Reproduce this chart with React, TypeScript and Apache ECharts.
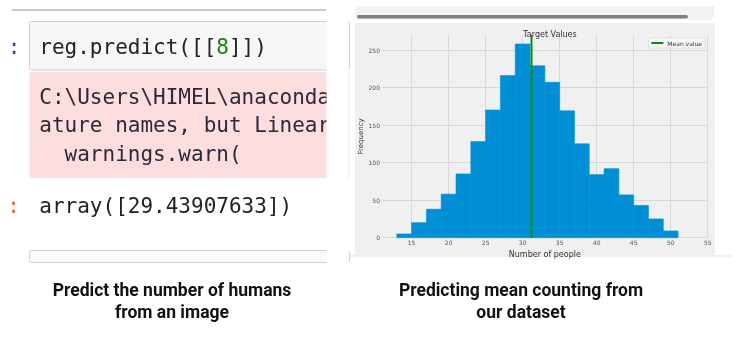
import React, { useEffect, useRef } from "react";
import * as echarts from "echarts";

// Histogram data (Target Values)
const binStarts = [13, 15, 17, 19, 21, 23, 25, 27, 29, 31, 33, 35, 37, 39, 41, 43, 45, 47, 49];
const binWidth = 2;
const counts = [5, 20, 38, 58, 85, 128, 170, 216, 258, 229, 207, 169, 125, 84, 92, 57, 43, 25, 9];
const meanValue = [31.2];
const xTickValues = [15, 20, 25, 30, 35, 40, 45, 50, 55];

// Notebook screenshot texts
const codeLine = ["reg.predict([[", "8", "]])"];
const stderrLines = ["C:\\Users\\HIMEL\\anaconda", "ature names, but Linear", "  warnings.warn("];
const outputLine = "array([29.43907633])";
const captionsLeft = ["Predict the number of humans", "from an image"];
const captionsRight = ["Predicting mean counting from", "our dataset"];

const MONO = "'DejaVu Sans Mono', monospace";
const SANS = "'DejaVu Sans', sans-serif";
const CAP = "Roboto, 'Noto Sans', sans-serif";
const TOP_OFF = 17; // baseline -> top for 21px mono

export default function App() {
  const ref = useRef<HTMLDivElement>(null);
  useEffect(() => {
    if (!ref.current) return;
    const chart = echarts.init(ref.current, null, { renderer: "svg" });
    const histData = binStarts.map((s, i) => [s, s + binWidth, counts[i]]);

    const graphics: any[] = [
      // left notebook screenshot
      { type: "line", z: 0, shape: { x1: 12, y1: 10, x2: 326, y2: 10 }, style: { stroke: "#b8b8b8", lineWidth: 1.5 } },
      { type: "text", z: 1, x: 14, y: 53 - TOP_OFF, style: { text: ":", fill: "#303f9f", font: `21px ${MONO}`, textAlign: "center", textVerticalAlign: "top" } },
      { type: "rect", z: 0, shape: { x: 29.5, y: 21.5, width: 320, height: 48.5, r: 2 }, style: { fill: "#f7f7f7", stroke: "#d0d0d0", lineWidth: 1 } },
      {
        type: "text", z: 1, x: 39.3, y: 53 - TOP_OFF,
        style: {
          text: `{a|${codeLine[0]}}{b|${codeLine[1]}}{a|${codeLine[2]}}`,
          textVerticalAlign: "top",
          rich: {
            a: { fill: "#222", font: `21px ${MONO}` },
            b: { fill: "#118811", font: `21px ${MONO}` },
          },
        },
      },
      { type: "rect", z: 0, shape: { x: 29.5, y: 72, width: 320, height: 106 }, style: { fill: "#fddddd" } },
      ...stderrLines.map((t, i) => ({
        type: "text", z: 1, x: 39.3, y: 103.3 + i * 28.5 - TOP_OFF,
        style: { text: t, fill: "#2a2a3a", font: `21px ${MONO}`, textVerticalAlign: "top" },
      })),
      { type: "text", z: 1, x: 13.5, y: 212 - TOP_OFF, style: { text: ":", fill: "#e8622a", font: `21px ${MONO}`, textAlign: "center", textVerticalAlign: "top" } },
      { type: "text", z: 1, x: 39.3, y: 212 - TOP_OFF, style: { text: outputLine, fill: "#222", font: `21px ${MONO}`, textVerticalAlign: "top" } },
      { type: "rect", z: 0, shape: { x: 29.5, y: 250.5, width: 320, height: 12, r: 2 }, style: { fill: "#fafafa", stroke: "#d0d0d0", lineWidth: 1 } },
      { type: "rect", z: 5, shape: { x: 326.5, y: 0, width: 22, height: 270 }, style: { fill: "#ffffff" } },
      // right panel decorations
      { type: "rect", z: 0, shape: { x: 355, y: 6, width: 359, height: 14, r: [0, 0, 4, 4] }, style: { fill: "#f3f3f3" } },
      { type: "rect", z: 1, shape: { x: 357, y: 15, width: 331, height: 3.5, r: 2 }, style: { fill: "#7f7f7f" } },
      { type: "rect", z: 0, shape: { x: 355, y: 23, width: 360, height: 232 }, style: { fill: "#f0f0f0" } },
      { type: "line", z: 0, shape: { x1: 348, y1: 256, x2: 732, y2: 256 }, style: { stroke: "#e8e8e8", lineWidth: 1.5 } },
      // captions
      ...captionsLeft.map((t, i) => ({
        type: "text", z: 1, x: 172, y: 290 + i * 22,
        style: { text: t, fill: "#111", font: `bold 17.5px ${CAP}`, textAlign: "center", textVerticalAlign: "middle" },
      })),
      ...captionsRight.map((t, i) => ({
        type: "text", z: 1, x: 521, y: 290 + i * 22,
        style: { text: t, fill: "#111", font: `bold 17.5px ${CAP}`, textAlign: "center", textVerticalAlign: "middle" },
      })),
    ];

    chart.setOption({
      animation: false,
      title: {
        text: "Target Values",
        left: 545,
        top: 25,
        textAlign: "center",
        textStyle: { fontSize: 8, fontWeight: "normal", color: "#333", fontFamily: SANS },
      },
      legend: {
        right: 34,
        top: 38,
        data: ["Mean value"],
        icon: "rect",
        itemWidth: 12,
        itemHeight: 2,
        itemGap: 4,
        padding: [2, 3, 2, 3],
        backgroundColor: "rgba(248,248,248,0.9)",
        borderColor: "#cccccc",
        borderWidth: 0.5,
        borderRadius: 2,
        textStyle: { fontSize: 6, color: "#333", fontFamily: SANS, padding: [0, 0, 0, -1] },
      },
      grid: { left: 382, right: 31.3, top: 35, bottom: 111.3, containLabel: false },
      xAxis: {
        type: "value",
        min: 11,
        max: 55,
        name: "Number of people",
        nameLocation: "middle",
        nameGap: 9,
        nameTextStyle: { fontSize: 8, color: "#333", fontFamily: SANS },
        axisLine: { show: false },
        axisTick: { show: false, customValues: xTickValues },
        axisLabel: { customValues: xTickValues, fontSize: 6, color: "#555", margin: 2, fontFamily: SANS },
        splitLine: { show: true, lineStyle: { color: "#d8d8d8", width: 1 } },
      },
      yAxis: {
        type: "value",
        min: 0,
        max: 270,
        interval: 50,
        name: "Frequency",
        nameLocation: "middle",
        nameGap: 14,
        nameTextStyle: { fontSize: 7, color: "#333", fontFamily: SANS },
        axisLine: { show: false },
        axisTick: { show: false },
        axisLabel: { fontSize: 6, color: "#555", margin: 2, showMaxLabel: false, fontFamily: SANS },
        splitLine: { show: true, showMaxLine: false, lineStyle: { color: "#d8d8d8", width: 1 } },
      },
      graphic: { elements: graphics },
      series: [
        {
          type: "custom",
          name: "Target",
          data: histData,
          encode: { x: [0, 1], y: 2 },
          z: 3,
          renderItem: (params: any, api: any) => {
            const p0 = api.coord([api.value(0), api.value(2)]);
            const p1 = api.coord([api.value(1), 0]);
            return {
              type: "rect",
              shape: { x: p0[0], y: p0[1], width: p1[0] - p0[0], height: p1[1] - p0[1] },
              style: { fill: "#008fd5", stroke: "#008fd5", lineWidth: 0.6 },
            };
          },
        },
        {
          type: "line",
          name: "Mean value",
          data: [[meanValue[0], 0], [meanValue[0], 270]],
          symbol: "none",
          z: 4,
          itemStyle: { color: "#0a8a1a" },
          lineStyle: { color: "#0a8a1a", width: 2 },
        },
      ],
    });
    return () => chart.dispose();
  }, []);
  return <div ref={ref} style={{ position: "fixed", left: 0, top: 0, width: 739, height: 349 }} />;
}
